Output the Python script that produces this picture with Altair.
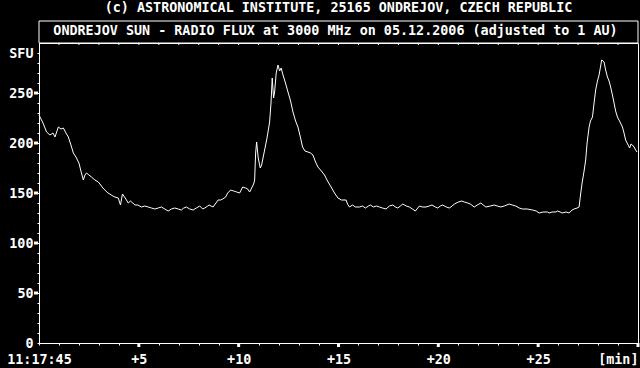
import altair as alt
import pandas as pd

# minutes after 11:17:45 UT
minutes = [0.0, 0.2, 0.38, 0.55, 0.7, 0.8, 0.97, 1.1, 1.22, 1.35, 1.47, 1.6, 1.72, 1.85, 2.0, 2.1,
           2.22, 2.3, 2.38, 2.5, 2.63, 2.8, 2.97, 3.05, 3.2, 3.3, 3.45, 3.55, 3.7, 3.8, 3.97, 4.08,
           4.18, 4.25, 4.35, 4.47, 4.58, 4.7, 4.8, 4.95, 5.13, 5.3, 5.47, 5.63, 5.8, 5.97, 6.13, 6.3,
           6.47, 6.63, 6.8, 6.97, 7.13, 7.25, 7.38, 7.55, 7.72, 7.88, 8.05, 8.2, 8.3, 8.45, 8.52, 8.62,
           8.72, 8.9, 8.97, 9.1, 9.2, 9.35, 9.45, 9.6, 9.75, 9.9, 10.05, 10.2, 10.35, 10.45, 10.55, 10.65,
           10.75, 10.8, 10.85, 10.9, 10.98, 11.08, 11.15, 11.3, 11.42, 11.55, 11.62, 11.68, 11.75, 11.8,
           11.88, 11.97, 12.05, 12.13, 12.22, 12.3, 12.4, 12.47, 12.6, 12.72, 12.85, 12.97, 13.1, 13.2,
           13.32, 13.47, 13.6, 13.72, 13.85, 13.97, 14.1, 14.3, 14.45, 14.63, 14.8, 14.97, 15.15, 15.38,
           15.45, 15.55, 15.7, 15.85, 16.05, 16.2, 16.35, 16.5, 16.6, 16.75, 16.9, 17.05, 17.2, 17.38,
           17.55, 17.72, 17.85, 17.97, 18.1, 18.22, 18.4, 18.55, 18.7, 18.85, 19.05, 19.2, 19.38, 19.55,
           19.68, 19.85, 19.97, 20.1, 20.22, 20.4, 20.55, 20.7, 20.8, 21.0, 21.18, 21.3, 21.47, 21.6,
           21.8, 21.95, 22.13, 22.25, 22.38, 22.6, 22.8, 22.95, 23.13, 23.3, 23.55, 23.7, 23.88, 24.05,
           24.22, 24.45, 24.72, 24.9, 25.05, 25.25, 25.47, 25.55, 25.7, 25.88, 25.97, 26.1, 26.2, 26.4,
           26.55, 26.7, 26.8, 26.95, 27.05, 27.12, 27.2, 27.3, 27.38, 27.45, 27.55, 27.62, 27.72, 27.8,
           27.88, 27.97, 28.05, 28.12, 28.18, 28.25, 28.3, 28.38, 28.47, 28.55, 28.63, 28.72, 28.8, 28.88,
           28.97, 29.1, 29.22, 29.3, 29.38, 29.48, 29.58, 29.65, 29.72, 29.8, 29.88, 29.95]

sfu = [228, 220, 211, 208, 210, 206, 216, 214, 215, 210, 206, 198, 190, 186, 180, 172,
       163, 168, 170, 168, 166, 163, 161, 159, 155, 153, 150, 149, 147, 146, 145, 138,
       149, 147, 144, 140, 142, 140, 138, 138, 136, 137, 136, 135, 134, 135, 136, 134,
       132, 134, 135, 134, 133, 135, 136, 134, 133, 135, 137, 134, 135, 137, 138, 137,
       136, 141, 143, 143, 144, 146, 150, 153, 152, 151, 150, 156, 155, 154, 151, 155,
       159, 163, 190, 201, 185, 175, 178, 193, 205, 221, 240, 265, 245, 251,
       270, 278, 272, 275, 268, 263, 256, 251, 242, 231, 222, 216, 205, 196,
       192, 191, 190, 188, 181, 176, 173, 168, 162, 156, 150, 145, 143, 143,
       139, 136, 138, 136, 136, 137, 135, 137, 138, 136, 137, 136, 135, 134,
       137, 138, 136, 135, 137, 139, 137, 136, 134, 132, 137, 136, 136, 137,
       138, 136, 135, 137, 138, 136, 135, 137, 139, 141, 142, 141, 140, 139,
       136, 138, 140, 138, 136, 137, 138, 137, 136, 137, 139, 138, 137, 135,
       134, 134, 133, 132, 130, 131, 131, 130, 131, 131, 132, 131, 130, 131,
       130, 133, 134, 135, 136, 148, 160, 172, 183, 200, 216, 222, 226, 240,
       253, 262, 268, 276, 283, 282, 281, 273, 266, 262, 256, 248, 240, 232,
       226, 221, 216, 210, 203, 199, 195, 199, 198, 196, 193, 191]

x_minor = list(range(0, 31))
x_major = [5, 10, 15, 20, 25, 30]
y_minor = list(range(0, 300, 10))
y_major = [50, 100, 150, 200, 250]

header = "(c) ASTRONOMICAL INSTITUTE, 25165 ONDREJOV, CZECH REPUBLIC"
box_title = "ONDREJOV SUN - RADIO FLUX at 3000 MHz on 05.12.2006 (adjusted to 1 AU)"

FONT = "DejaVu Sans Mono"
FS = 13.4
W, H = 599, 300

df = pd.DataFrame({"t": minutes, "v": sfu})
xscale = alt.Scale(domain=[0, 30], nice=False, zero=False)
yscale = alt.Scale(domain=[0, 300], nice=False)

x_axis = alt.Axis(
    values=x_minor, title=None, grid=False,
    labelExpr="datum.value == 0 ? '11:17:45' : (datum.value == 30 ? '[min]' : (datum.value % 5 == 0 ? '+' + datum.label : ''))",
    labelAlign={"condition": {"test": "datum.value == 30", "value": "right"}, "value": "center"},
    labelOverlap=False, labelFont=FONT, labelFontSize=FS, labelFontWeight="bold",
    labelColor="white", labelPadding=7, tickColor="white", tickSize=2, tickWidth=1,
    domainColor="white", domainWidth=1,
)
y_axis = alt.Axis(
    values=y_minor, title=None, grid=False,
    labelExpr="datum.value == 290 ? 'SFU' : (datum.value % 50 == 0 ? datum.label : '')",
    labelOverlap=False, labelFont=FONT, labelFontSize=FS, labelFontWeight="bold",
    labelColor="white", labelPadding=4, tickColor="white", tickSize=2, tickWidth=1,
    domainColor="white", domainWidth=1,
)

line = alt.Chart(df).mark_line(color="white", strokeWidth=1).encode(
    x=alt.X("t:Q", scale=xscale, axis=x_axis),
    y=alt.Y("v:Q", scale=yscale, axis=y_axis),
)

xmaj = alt.Chart(pd.DataFrame({"t": x_major})).mark_rule(color="white", strokeWidth=3).encode(
    x=alt.X("t:Q", scale=xscale, axis=x_axis), y=alt.value(H), y2=alt.value(H + 4))
ymaj = alt.Chart(pd.DataFrame({"v": y_major})).mark_rule(color="white", strokeWidth=3).encode(
    y=alt.Y("v:Q", scale=yscale, axis=y_axis), x=alt.value(-5), x2=alt.value(-1))
xtop = alt.Chart(pd.DataFrame({"t": x_minor[1:30]})).mark_rule(color="white", strokeWidth=1).encode(
    x=alt.X("t:Q", scale=xscale, axis=x_axis), y=alt.value(0), y2=alt.value(2))

one = pd.DataFrame({"k": [0]})
box = alt.Chart(one).mark_rect(filled=False, stroke="white", strokeWidth=1).encode(
    x=alt.value(0), x2=alt.value(W), y=alt.value(-22), y2=alt.value(0))
txt_header = alt.Chart(one).mark_text(
    font=FONT, fontSize=FS, fontWeight="bold", color="white", align="center", baseline="middle"
).encode(text=alt.value(header), x=alt.value(W / 2), y=alt.value(-35))
txt_box = alt.Chart(one).mark_text(
    font=FONT, fontSize=FS, fontWeight="bold", color="white", align="center", baseline="middle"
).encode(text=alt.value(box_title), x=alt.value(W / 2 - 3), y=alt.value(-12))

chart = alt.layer(line, xmaj, ymaj, xtop, box, txt_header, txt_box).properties(
    width=W, height=H,
    padding={"left": 39, "top": 43, "right": 2, "bottom": 25},
    autosize=alt.AutoSizeParams(type="none"),
    background="black",
).configure_view(stroke="white", strokeWidth=1)

chart.save("out.html", embed_options={"renderer": "svg", "actions": False})
